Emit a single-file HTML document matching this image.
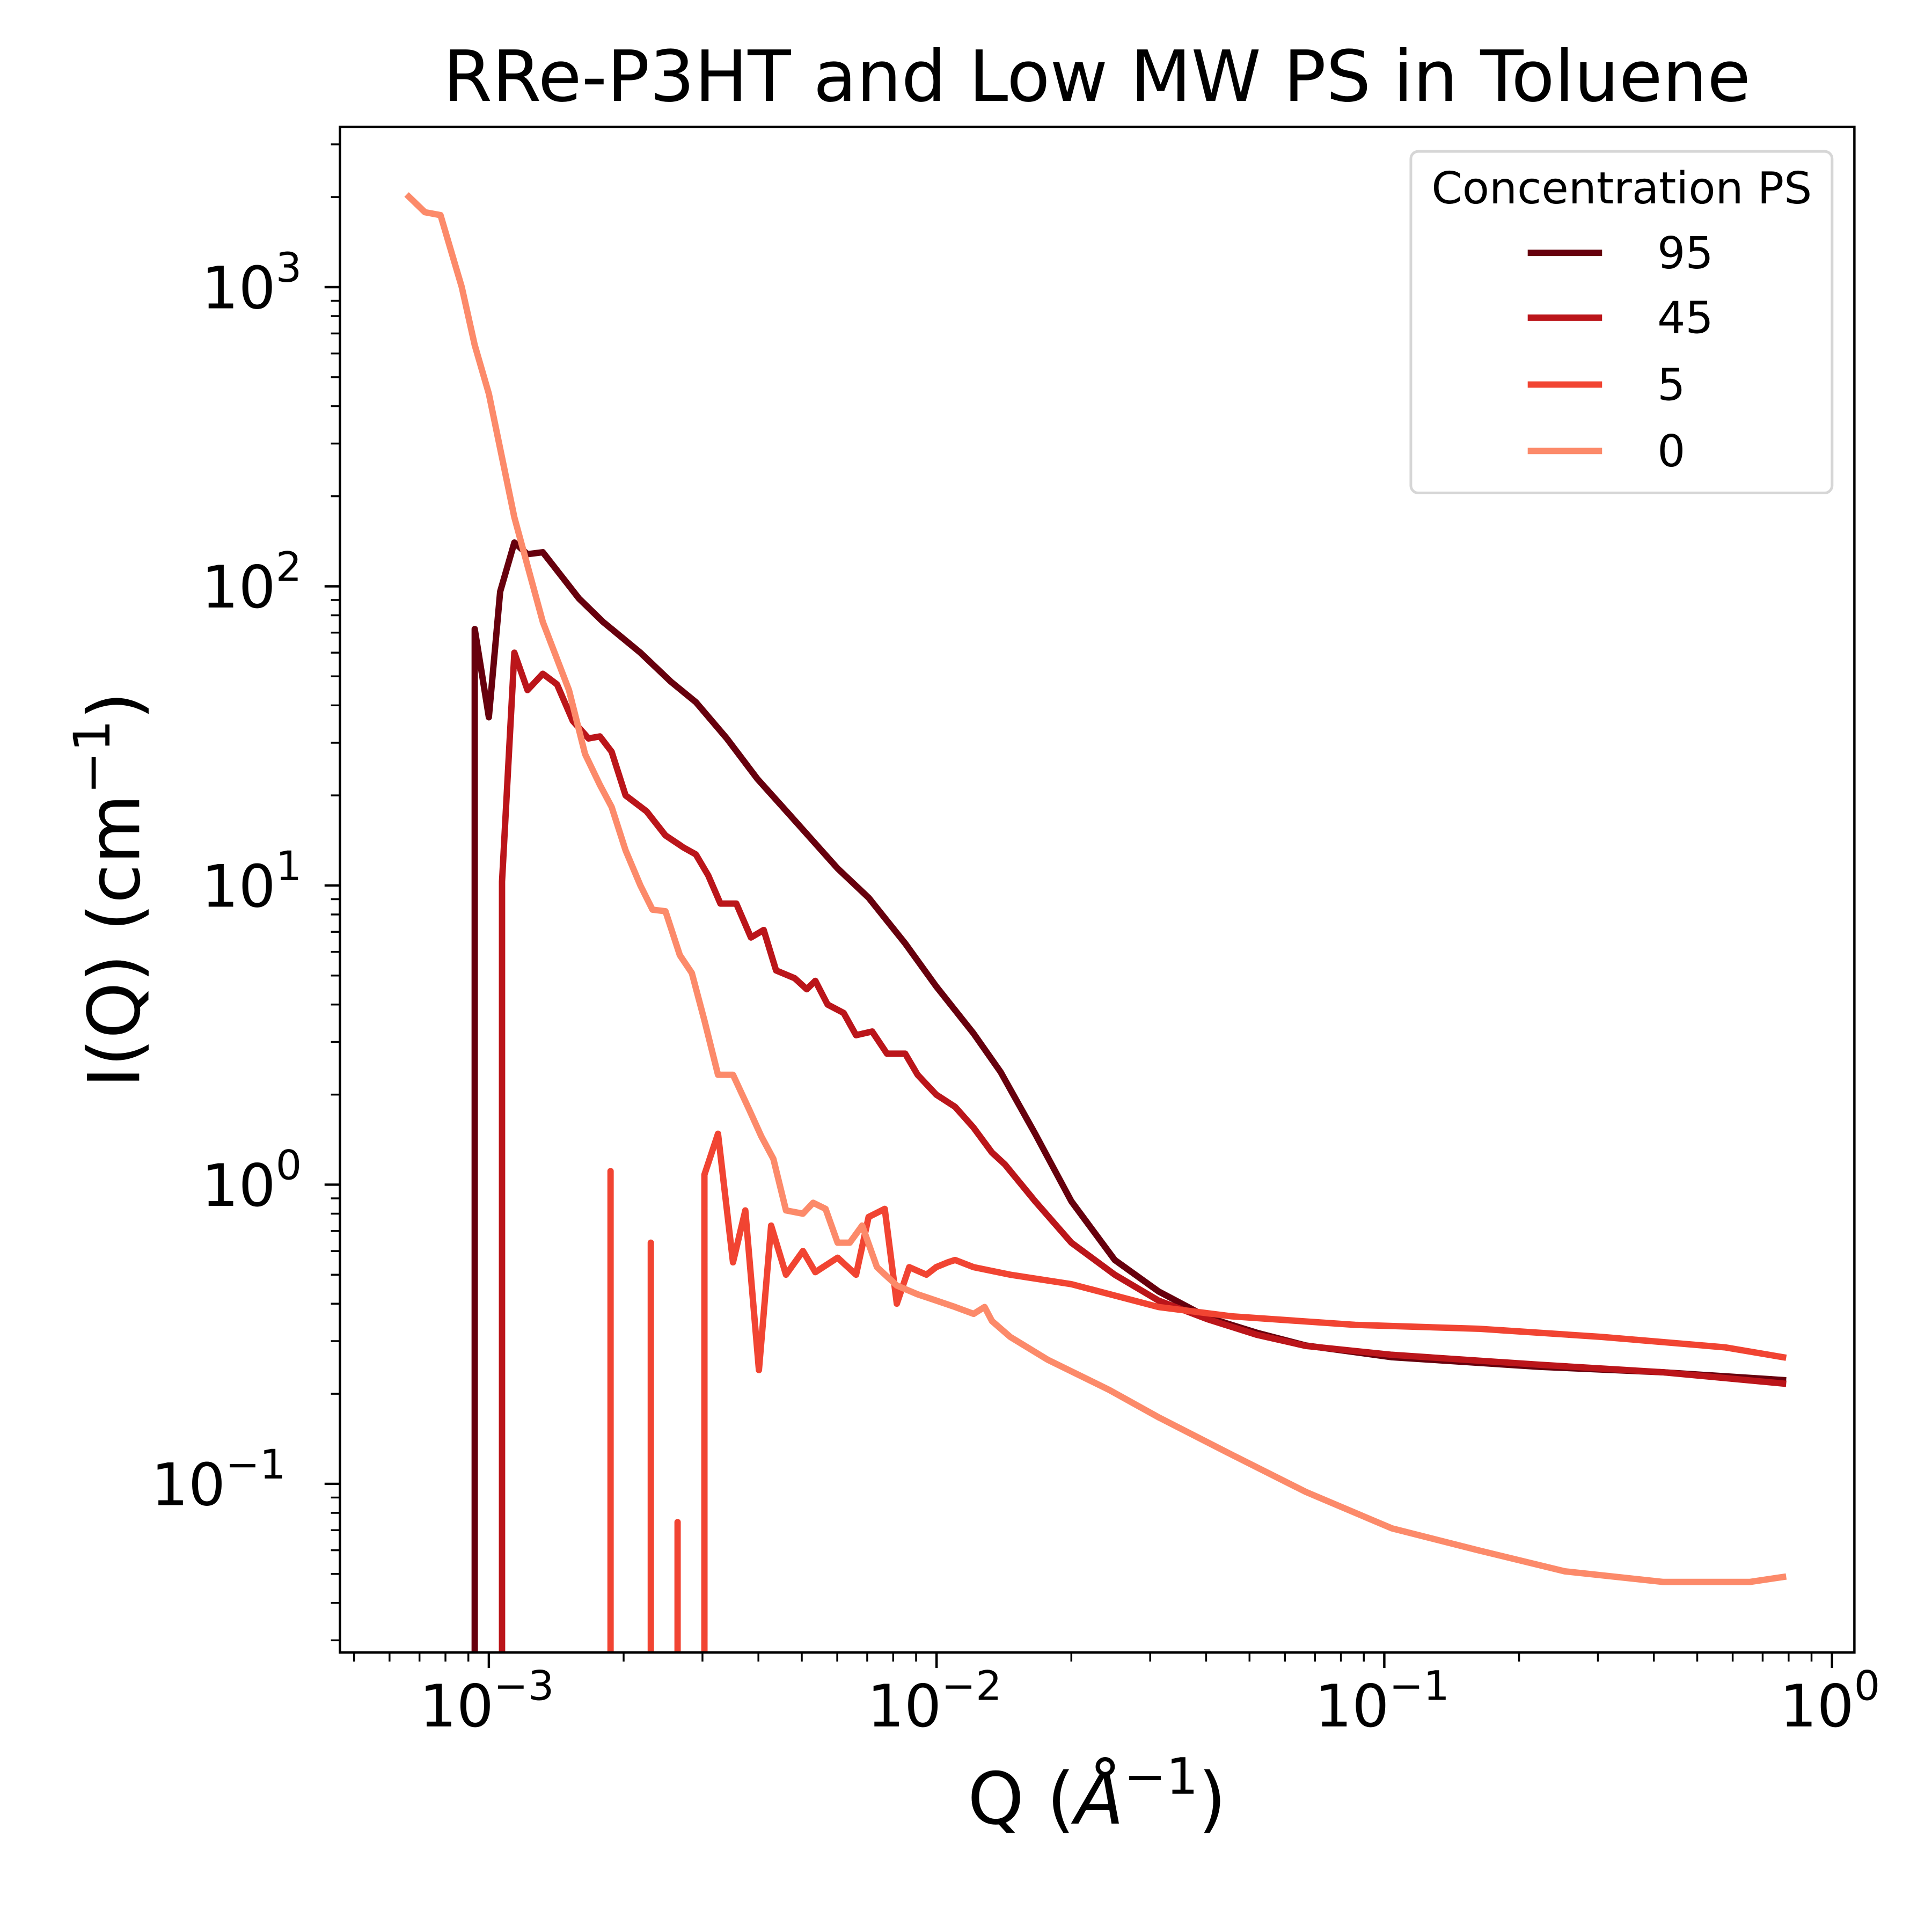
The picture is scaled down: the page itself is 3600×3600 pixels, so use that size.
<!DOCTYPE html>
<html><head><meta charset="utf-8"><style>
html,body{margin:0;padding:0;background:#fff}
svg{display:block;font-family:"DejaVu Sans","Liberation Sans",sans-serif}
</style></head><body>
<svg id="chart" width="3600" height="3600" viewBox="0 0 3600 3600" xmlns="http://www.w3.org/2000/svg">
<defs><clipPath id="plotclip"><rect x="640" y="239" width="2851" height="2872"/></clipPath></defs>
<rect x="0" y="0" width="3600" height="3600" fill="#fff"/>
<g transform="scale(0.9898)">
<text x="2065" y="190" font-size="133" text-anchor="middle">RRe-P3HT and Low MW PS in Toluene</text>
<g id="series" clip-path="url(#plotclip)"></g>
<g id="axes"></g>
<text x="2065" y="3433" font-size="135" text-anchor="middle">Q (<tspan font-style="italic">Å</tspan><tspan font-size="95" dy="-56">−1</tspan><tspan dy="56">)</tspan></text>
<text transform="translate(262,1675) rotate(-90)" font-size="135" text-anchor="middle">I(Q) (cm<tspan font-size="95" dy="-56">−1</tspan><tspan dy="56">)</tspan></text>
<g>
<rect x="2656" y="285" width="793" height="643" rx="14" fill="#fff" fill-opacity="0.8" stroke="#d6d6d6" stroke-width="5"/>
<text x="3053" y="383" font-size="83" text-anchor="middle">Concentration PS</text>
<g id="legend-entries"></g>
</g>
</g>
</svg>
<script>
const categories = ["95","45","5","0"];
const colors = ["#67000d","#bb151a","#f14432","#fc8a6a"];
const q95 = [0.00093,0.00093,0.001,0.00106,0.00114,0.00122,0.00132,0.00159,0.0018,0.00218,0.00255,0.0029,0.0034,0.00398,0.00467,0.00601,0.00705,0.00851,0.00998,0.0121,0.0139,0.0166,0.02,0.025,0.0313,0.0403,0.0519,0.0668,0.104,0.223,0.42,0.79];
const i95 = [1e-6,72,36.5,96,140,128,130,91,76,60,48,41,31,22.7,17.4,11.4,9.1,6.4,4.6,3.2,2.38,1.48,0.88,0.56,0.44,0.36,0.32,0.29,0.265,0.246,0.236,0.222];
const q45 = [0.00107,0.00107,0.00114,0.00122,0.00132,0.00142,0.00154,0.00167,0.00177,0.00188,0.00202,0.00225,0.00248,0.00272,0.0029,0.00309,0.00329,0.00357,0.00385,0.00411,0.00438,0.00482,0.00513,0.00536,0.00571,0.0062,0.00661,0.00718,0.00775,0.00851,0.00907,0.00998,0.011,0.0121,0.0133,0.0142,0.0166,0.02,0.025,0.0313,0.0403,0.0519,0.0668,0.104,0.223,0.42,0.79];
const i45 = [1e-6,10.3,60,45,51,47,35.5,31,31.5,28,20,17.7,14.7,13.4,12.7,10.8,8.7,8.7,6.7,7.1,5.2,4.9,4.5,4.8,4.0,3.75,3.16,3.25,2.74,2.74,2.33,2.0,1.82,1.55,1.28,1.17,0.88,0.64,0.5,0.41,0.355,0.315,0.289,0.27,0.25,0.236,0.216];
const q5 = [0.00187,0.00187,0.00187,0.0023,0.0023,0.0023,0.00264,0.00264,0.00264,0.00303,0.00303,0.00325,0.00351,0.00374,0.00401,0.00427,0.00461,0.00503,0.00536,0.00601,0.00661,0.00705,0.00766,0.00815,0.00869,0.00949,0.00998,0.0106,0.011,0.0121,0.0146,0.02,0.0313,0.0457,0.0861,0.162,0.305,0.576,0.79];
const i5 = [1e-6,1.11,1e-6,1e-6,0.64,1e-6,1e-6,0.0745,1e-6,1e-6,1.08,1.48,0.55,0.82,0.24,0.73,0.5,0.6,0.51,0.57,0.5,0.78,0.83,0.4,0.53,0.5,0.53,0.55,0.56,0.53,0.5,0.465,0.39,0.363,0.34,0.33,0.31,0.286,0.264];
const q0 = [0.000655,0.00072,0.00078,0.00087,0.00093,0.001,0.00114,0.00132,0.00151,0.00164,0.00177,0.00188,0.00202,0.00218,0.00232,0.00248,0.00267,0.00284,0.00303,0.00325,0.00351,0.00381,0.00406,0.00432,0.00461,0.00503,0.0053,0.00565,0.00601,0.0064,0.00682,0.00736,0.00815,0.00907,0.00998,0.011,0.0121,0.0128,0.0133,0.0146,0.0177,0.0243,0.0313,0.0457,0.0668,0.104,0.162,0.253,0.42,0.655,0.79];
const i0 = [2040,1780,1740,1000,640,440,170,76,45,27.5,21.7,18.3,13.1,10,8.3,8.2,5.85,5.1,3.54,2.33,2.33,1.79,1.45,1.22,0.82,0.8,0.87,0.83,0.64,0.64,0.73,0.53,0.46,0.43,0.41,0.39,0.37,0.39,0.35,0.31,0.26,0.206,0.167,0.125,0.094,0.071,0.06,0.051,0.047,0.047,0.049];
const xTickExps = [-3,-2,-1,0];
const yTickExps = [-1,0,1,2,3];

const X0=640,X1=3491,Y0=239,Y1=3111;
const LX0=Math.log10(0.000465),LX1=Math.log10(1.122),LY0=Math.log10(0.0273),LY1=Math.log10(3430);
function xs(q){return X0+(Math.log10(q)-LX0)/(LX1-LX0)*(X1-X0);}
function ys(v){let l=Math.max(Math.log10(v),LY0-1);return Y1-(l-LY0)/(LY1-LY0)*(Y1-Y0);}
const NS="http://www.w3.org/2000/svg";
function mk(t,a,p){const e=document.createElementNS(NS,t);for(const k in a)e.setAttribute(k,a[k]);p.appendChild(e);return e;}
const sg=document.getElementById('series');
const allQ=[q95,q45,q5,q0],allI=[i95,i45,i5,i0];
allQ.forEach((qs,s)=>{
  const d=qs.map((q,k)=>(k?'L':'M')+xs(q).toFixed(1)+','+ys(allI[s][k]).toFixed(1)).join('');
  const p=mk('path',{d:d,fill:'none',stroke:colors[s],'stroke-width':12,'stroke-linejoin':'round'},sg);
  
  
});
const ax=document.getElementById('axes');
const frame=mk('rect',{x:X0,y:Y0,width:X1-X0,height:Y1-Y0,fill:'none',stroke:'#000','stroke-width':4.5},ax);


for(let e=-4;e<=0;e++){for(let m=1;m<10;m++){const q=m*Math.pow(10,e);const x=xs(q);if(x<X0-1||x>X1+1)continue;
  const L=m===1?29:17;const t=mk('line',{x1:x,x2:x,y1:Y1,y2:Y1+L,stroke:'#000','stroke-width':m===1?4.5:3.5},ax);
  
  }}
for(let e=-2;e<=3;e++){for(let m=1;m<10;m++){const v=m*Math.pow(10,e);const y=ys(v);if(y<Y0-1||y>Y1+1)continue;
  const L=m===1?29:17;const t=mk('line',{x1:X0-L,x2:X0,y1:y,y2:y,stroke:'#000','stroke-width':m===1?4.5:3.5},ax);
  
  }}
xTickExps.forEach(e=>{const t=mk('text',{x:xs(Math.pow(10,e))-4,y:3250,'font-size':110,'text-anchor':'middle'},ax);
  
  
  t.innerHTML='10<tspan font-size="77" dy="-50">'+(e<0?'−'+(-e):e)+'</tspan>';});
yTickExps.forEach(e=>{const t=mk('text',{x:e<0?538:568,y:ys(Math.pow(10,e))+40,'font-size':110,'text-anchor':'end'},ax);
  
  
  t.innerHTML='10<tspan font-size="77" dy="-50">'+(e<0?'−'+(-e):e)+'</tspan>';});
const lg=document.getElementById('legend-entries');
const ly=[476,598,724,849];
categories.forEach((c,s)=>{
  const l=mk('line',{x1:2876,x2:3016,y1:ly[s],y2:ly[s],stroke:colors[s],'stroke-width':12},lg);
  
  
  const t=mk('text',{x:3120,y:ly[s]+29,'font-size':83},lg);
  
  
  t.textContent=c;
});
</script>
</body></html>
